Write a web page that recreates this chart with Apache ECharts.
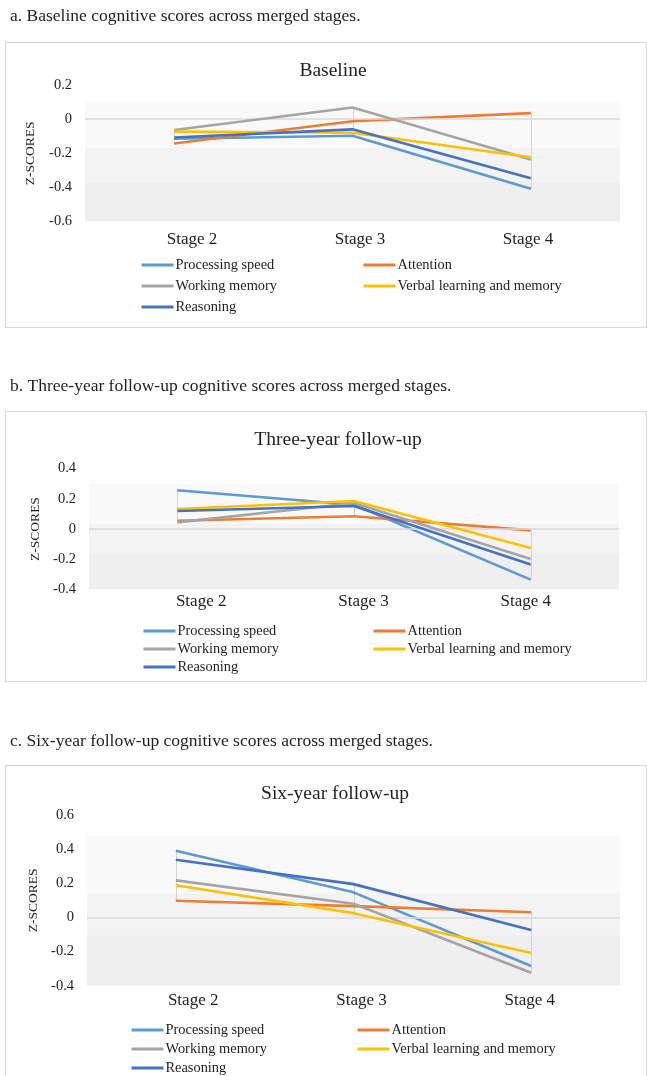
<!DOCTYPE html>
<html>
<head>
<meta charset="utf-8">
<title>Cognitive scores across merged stages</title>
<script src="https://cdn.jsdelivr.net/npm/echarts@6/dist/echarts.min.js"></script>
<style>
  html, body { margin: 0; padding: 0; background: #ffffff; }
  #chart { width: 647px; height: 1076px; }
</style>
</head>
<body>
<div id="chart"></div>
<script>
// Categories and series names
const stages = ['Stage 2', 'Stage 3', 'Stage 4'];
const domains = ['Processing speed', 'Attention', 'Working memory', 'Verbal learning and memory', 'Reasoning'];

// Baseline z-scores (Stage 2, Stage 3, Stage 4)
const baseProcessing = [-0.115, -0.097, -0.408];
const baseAttention  = [-0.143, -0.012, 0.035];
const baseWorking    = [-0.064, 0.068, -0.237];
const baseVerbal     = [-0.073, -0.080, -0.223];
const baseReasoning  = [-0.108, -0.060, -0.346];

// Three-year follow-up z-scores
const threeProcessing = [0.256, 0.160, -0.335];
const threeAttention  = [0.055, 0.084, -0.009];
const threeWorking    = [0.044, 0.172, -0.198];
const threeVerbal     = [0.132, 0.185, -0.126];
const threeReasoning  = [0.119, 0.152, -0.234];

// Six-year follow-up z-scores
const sixProcessing = [0.391, 0.147, -0.285];
const sixAttention  = [0.098, 0.066, 0.030];
const sixWorking    = [0.217, 0.080, -0.324];
const sixVerbal     = [0.188, 0.025, -0.209];
const sixReasoning  = [0.338, 0.195, -0.074];

// Y-axis ranges
const baseAxis  = { min: -0.6, max: 0.2, interval: 0.2 };
const threeAxis = { min: -0.4, max: 0.4, interval: 0.2 };
const sixAxis   = { min: -0.4, max: 0.6, interval: 0.2 };

const colors = ['#5B9BD5', '#ED7D31', '#A5A5A5', '#FFC000', '#4472C4'];
const FONT = '"Liberation Serif", "Times New Roman", serif';
const TXT = '#1f1f1f';

// Panel layout (pixels) and plot-area shading bands (value boundaries, top to bottom).
// labelSpan: horizontal extent used for the stage labels under each plot.
const panels = [
  {
    caption: 'a. Baseline cognitive scores across merged stages.', captionY: 7,
    title: 'Baseline', titleX: 328, titleY: 56,
    box: [5, 42, 641, 285],
    grid: { left: 85, right: 27, top: 85, height: 136.5 },
    labelSpan: { left: 108, right: 35 },
    axis: baseAxis, series: [baseProcessing, baseAttention, baseWorking, baseVerbal, baseReasoning],
    bands: [0.103, -0.166, -0.366, -0.6],
    labelMargin: 10, nameGap: 48,
    legendTop: 258, legendGap: 7, legendCols: [140, 362]
  },
  {
    caption: 'b. Three-year follow-up cognitive scores across merged stages.', captionY: 377,
    title: 'Three-year follow-up', titleX: 333, titleY: 425,
    box: [5, 411, 641, 270],
    grid: { left: 89, right: 28, top: 468.5, height: 121 },
    labelSpan: { left: 120, right: 40 },
    axis: threeAxis, series: [threeProcessing, threeAttention, threeWorking, threeVerbal, threeReasoning],
    bands: [0.297, 0.033, -0.165, -0.4],
    labelMargin: 4, nameGap: 41,
    legendTop: 624, legendGap: 4, legendCols: [142, 372]
  },
  {
    caption: 'c. Six-year follow-up cognitive scores across merged stages.', captionY: 732,
    title: 'Six-year follow-up', titleX: 330, titleY: 779,
    box: [5, 765, 641, 330],
    grid: { left: 87, right: 27, top: 815, height: 170.7 },
    labelSpan: { left: 109, right: 33 },
    axis: sixAxis, series: [sixProcessing, sixAttention, sixWorking, sixVerbal, sixReasoning],
    bands: [0.479, 0.141, -0.104, -0.4],
    labelMargin: 6, nameGap: 42,
    legendTop: 1023, legendGap: 5, legendCols: [130, 356]
  }
];

const bandColors = ['#f9f9f9', '#f3f3f3', '#efefef'];

const option = {
  animation: false,
  backgroundColor: '#ffffff',
  title: [],
  grid: [],
  xAxis: [],
  yAxis: [],
  legend: [],
  series: [],
  graphic: []
};

panels.forEach((p, k) => {
  const plot = 2 * k;      // grid holding the lines
  const labels = 2 * k + 1; // grid carrying the stage labels

  // Caption and framing box
  option.graphic.push({
    type: 'text', left: 10, top: p.captionY,
    style: { text: p.caption, font: '17.5px ' + FONT, fill: TXT }
  });
  option.graphic.push({
    type: 'rect', silent: true, z: -1,
    shape: { x: p.box[0] + 0.5, y: p.box[1] + 0.5, width: p.box[2], height: p.box[3] },
    style: { fill: 'none', stroke: '#d9d9d9', lineWidth: 1.2 }
  });

  option.title.push({
    text: p.title, left: p.titleX, top: p.titleY, textAlign: 'center',
    textStyle: { fontFamily: FONT, fontSize: 19.5, fontWeight: 'normal', color: TXT }
  });

  option.grid.push(Object.assign({ outerBoundsMode: 'none' }, p.grid));
  option.grid.push({
    outerBoundsMode: 'none', left: p.labelSpan.left, right: p.labelSpan.right,
    top: p.grid.top, height: p.grid.height
  });

  option.xAxis.push({
    type: 'category', gridIndex: plot, data: stages, boundaryGap: true,
    axisLine: { show: false }, axisTick: { show: false }, splitLine: { show: false },
    axisLabel: { show: false }
  });
  option.xAxis.push({
    type: 'category', gridIndex: labels, data: stages, boundaryGap: true,
    axisLine: { show: false }, axisTick: { show: false }, splitLine: { show: false },
    axisLabel: { fontFamily: FONT, fontSize: 17, color: TXT, margin: p.labelMargin }
  });

  option.yAxis.push({
    type: 'value', gridIndex: plot, min: p.axis.min, max: p.axis.max, interval: p.axis.interval,
    name: 'Z-SCORES', nameLocation: 'middle', nameGap: p.nameGap, nameRotate: 90,
    nameTextStyle: { fontFamily: FONT, fontSize: 13.5, color: TXT },
    axisLine: { show: false }, axisTick: { show: false }, splitLine: { show: false },
    axisLabel: { fontFamily: FONT, fontSize: 14.5, color: TXT, margin: 13 }
  });
  option.yAxis.push({
    type: 'value', gridIndex: labels, min: p.axis.min, max: p.axis.max, show: false
  });

  // Shaded plot-area bands and the zero line
  const areas = [];
  for (let i = 0; i < p.bands.length - 1; i++) {
    areas.push([
      { yAxis: p.bands[i], itemStyle: { color: bandColors[i] } },
      { yAxis: p.bands[i + 1] }
    ]);
  }
  option.series.push({
    type: 'line', xAxisIndex: plot, yAxisIndex: plot, data: [], z: 0, silent: true,
    markArea: { silent: true, data: areas },
    markLine: {
      silent: true, symbol: 'none', label: { show: false },
      lineStyle: { color: '#d9d9d9', width: 1.5, type: 'solid' },
      data: [{ yAxis: 0 }]
    }
  });

  // High-low lines connecting each stage's highest and lowest score
  const hiLo = stages.map((s, i) => {
    const vals = p.series.map(arr => arr[i]);
    return [i, Math.min.apply(null, vals), Math.max.apply(null, vals)];
  });
  option.series.push({
    type: 'custom', xAxisIndex: plot, yAxisIndex: plot, z: 1, silent: true, data: hiLo,
    renderItem: (params, api) => {
      const a = api.coord([api.value(0), api.value(1)]);
      const b = api.coord([api.value(0), api.value(2)]);
      return {
        type: 'line',
        shape: { x1: Math.round(a[0]) + 0.5, y1: a[1], x2: Math.round(b[0]) + 0.5, y2: b[1] },
        style: { stroke: '#d4d4d4', lineWidth: 1 }
      };
    }
  });

  // Domain lines
  p.series.forEach((arr, j) => {
    option.series.push({
      name: domains[j], type: 'line', xAxisIndex: plot, yAxisIndex: plot, data: arr,
      symbol: 'none', z: 3 + j,
      lineStyle: { color: colors[j], width: 2.6 },
      itemStyle: { color: colors[j] }
    });
  });

  // Two-column legend (line keys only)
  const legendBase = {
    orient: 'vertical', top: p.legendTop, padding: 0, itemGap: p.legendGap,
    itemWidth: 32, itemHeight: 14, selectedMode: false,
    itemStyle: { opacity: 0 },
    lineStyle: { width: 3 },
    textStyle: { fontFamily: FONT, fontSize: 14.4, color: TXT, padding: [0, 0, 0, -3] }
  };
  option.legend.push(Object.assign({}, legendBase, {
    left: p.legendCols[0], data: [domains[0], domains[2], domains[4]]
  }));
  option.legend.push(Object.assign({}, legendBase, {
    left: p.legendCols[1], data: [domains[1], domains[3]]
  }));
});

const chart = echarts.init(document.getElementById('chart'), null, { renderer: 'canvas' });
chart.setOption(option);
</script>
</body>
</html>
